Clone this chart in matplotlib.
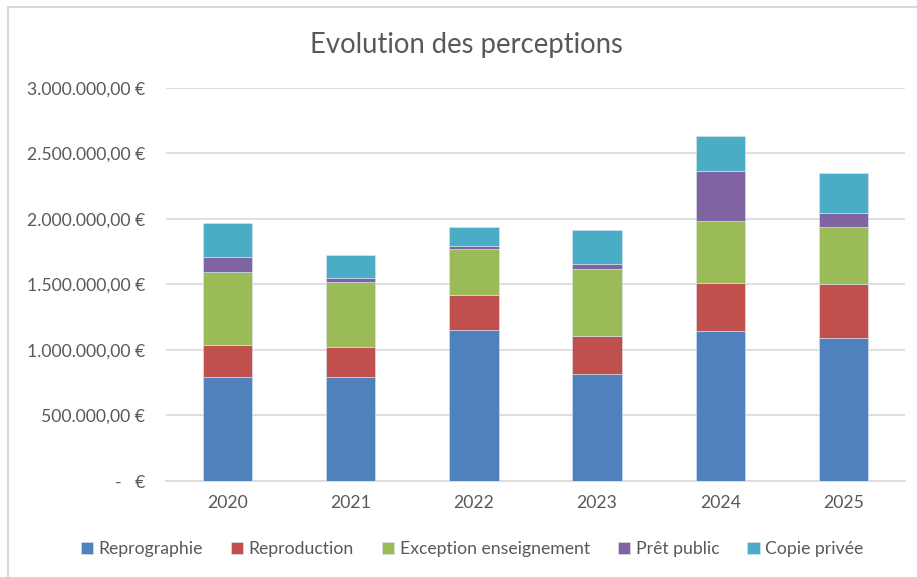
import matplotlib
matplotlib.use("Agg")
import matplotlib.pyplot as plt
from matplotlib.ticker import FuncFormatter, MultipleLocator
from matplotlib.lines import Line2D
import numpy as np

years = ["2020", "2021", "2022", "2023", "2024", "2025"]
reprographie = [790000, 790000, 1153000, 819000, 1145000, 1089000]
reproduction = [245000, 235000, 267000, 286000, 364000, 413000]
exception_enseignement = [560000, 490000, 349000, 513000, 476000, 432000]
pret_public = [110000, 35000, 25000, 38000, 376000, 112000]
copie_privee = [260000, 175000, 147000, 255000, 270000, 307000]

series_names = ["Reprographie", "Reproduction", "Exception enseignement", "Prêt public", "Copie privée"]
series = [reprographie, reproduction, exception_enseignement, pret_public, copie_privee]
colors = ["#4F81BD", "#C0504D", "#9BBB59", "#8064A2", "#4BACC6"]

plt.rcParams['font.family'] = ['Lato', 'DejaVu Sans']
txt = "#595959"

fig = plt.figure(figsize=(9.17, 5.77), dpi=100)
W, H = 917, 577
ax = fig.add_axes([166 / W, (H - 481) / H, (905 - 166) / W, (481 - 87.7) / H])

x = np.arange(len(years))
bottom = np.zeros(len(years))
for name, vals, c in zip(series_names, series, colors):
    ax.bar(x, vals, width=0.4, bottom=bottom, color=c, label=name,
           edgecolor="#dce6f2", linewidth=0.4, zorder=3)
    bottom += np.array(vals)

ax.set_xlim(-0.5, 5.5)
ax.set_ylim(0, 3000000)
ax.yaxis.set_major_locator(MultipleLocator(500000))


def fmt(v, pos):
    if abs(v) < 1:
        return "-   €"
    s = f"{v:,.2f}".replace(",", "X").replace(".", ",").replace("X", ".")
    return s + " €"


ax.yaxis.set_major_formatter(FuncFormatter(fmt))
ax.set_xticks(x)
ax.set_xticklabels(years)
ax.grid(axis="y", color="#d9d9d9", linewidth=1.2, zorder=0)
for s in ["top", "right", "left"]:
    ax.spines[s].set_visible(False)
ax.spines["bottom"].set_color("#d9d9d9")
ax.spines["bottom"].set_linewidth(1.2)
ax.tick_params(axis="both", length=0, colors=txt, labelsize=12.7)
ax.tick_params(axis="y", pad=15)
ax.tick_params(axis="x", pad=10)

fig.text(466 / W, 1 - 45 / H, "Evolution des perceptions", ha="center", va="center",
         fontsize=19.8, color=txt)

leg = fig.legend(loc="center", bbox_to_anchor=(472 / W, 1 - 549 / H), ncol=5,
                 frameon=False, fontsize=12.7, handlelength=0.7, handleheight=0.7,
                 handletextpad=0.3, columnspacing=1.6, labelcolor=txt)

# chart border (left and top visible)
fig.add_artist(Line2D([7.5 / W, 7.5 / W], [0, 1 - 6.5 / H], transform=fig.transFigure,
                      color="#d9d9d9", linewidth=1.5))
fig.add_artist(Line2D([7.5 / W, 1], [1 - 6.5 / H, 1 - 6.5 / H], transform=fig.transFigure,
                      color="#d9d9d9", linewidth=1.5))

fig.savefig("out.png", dpi=100)
